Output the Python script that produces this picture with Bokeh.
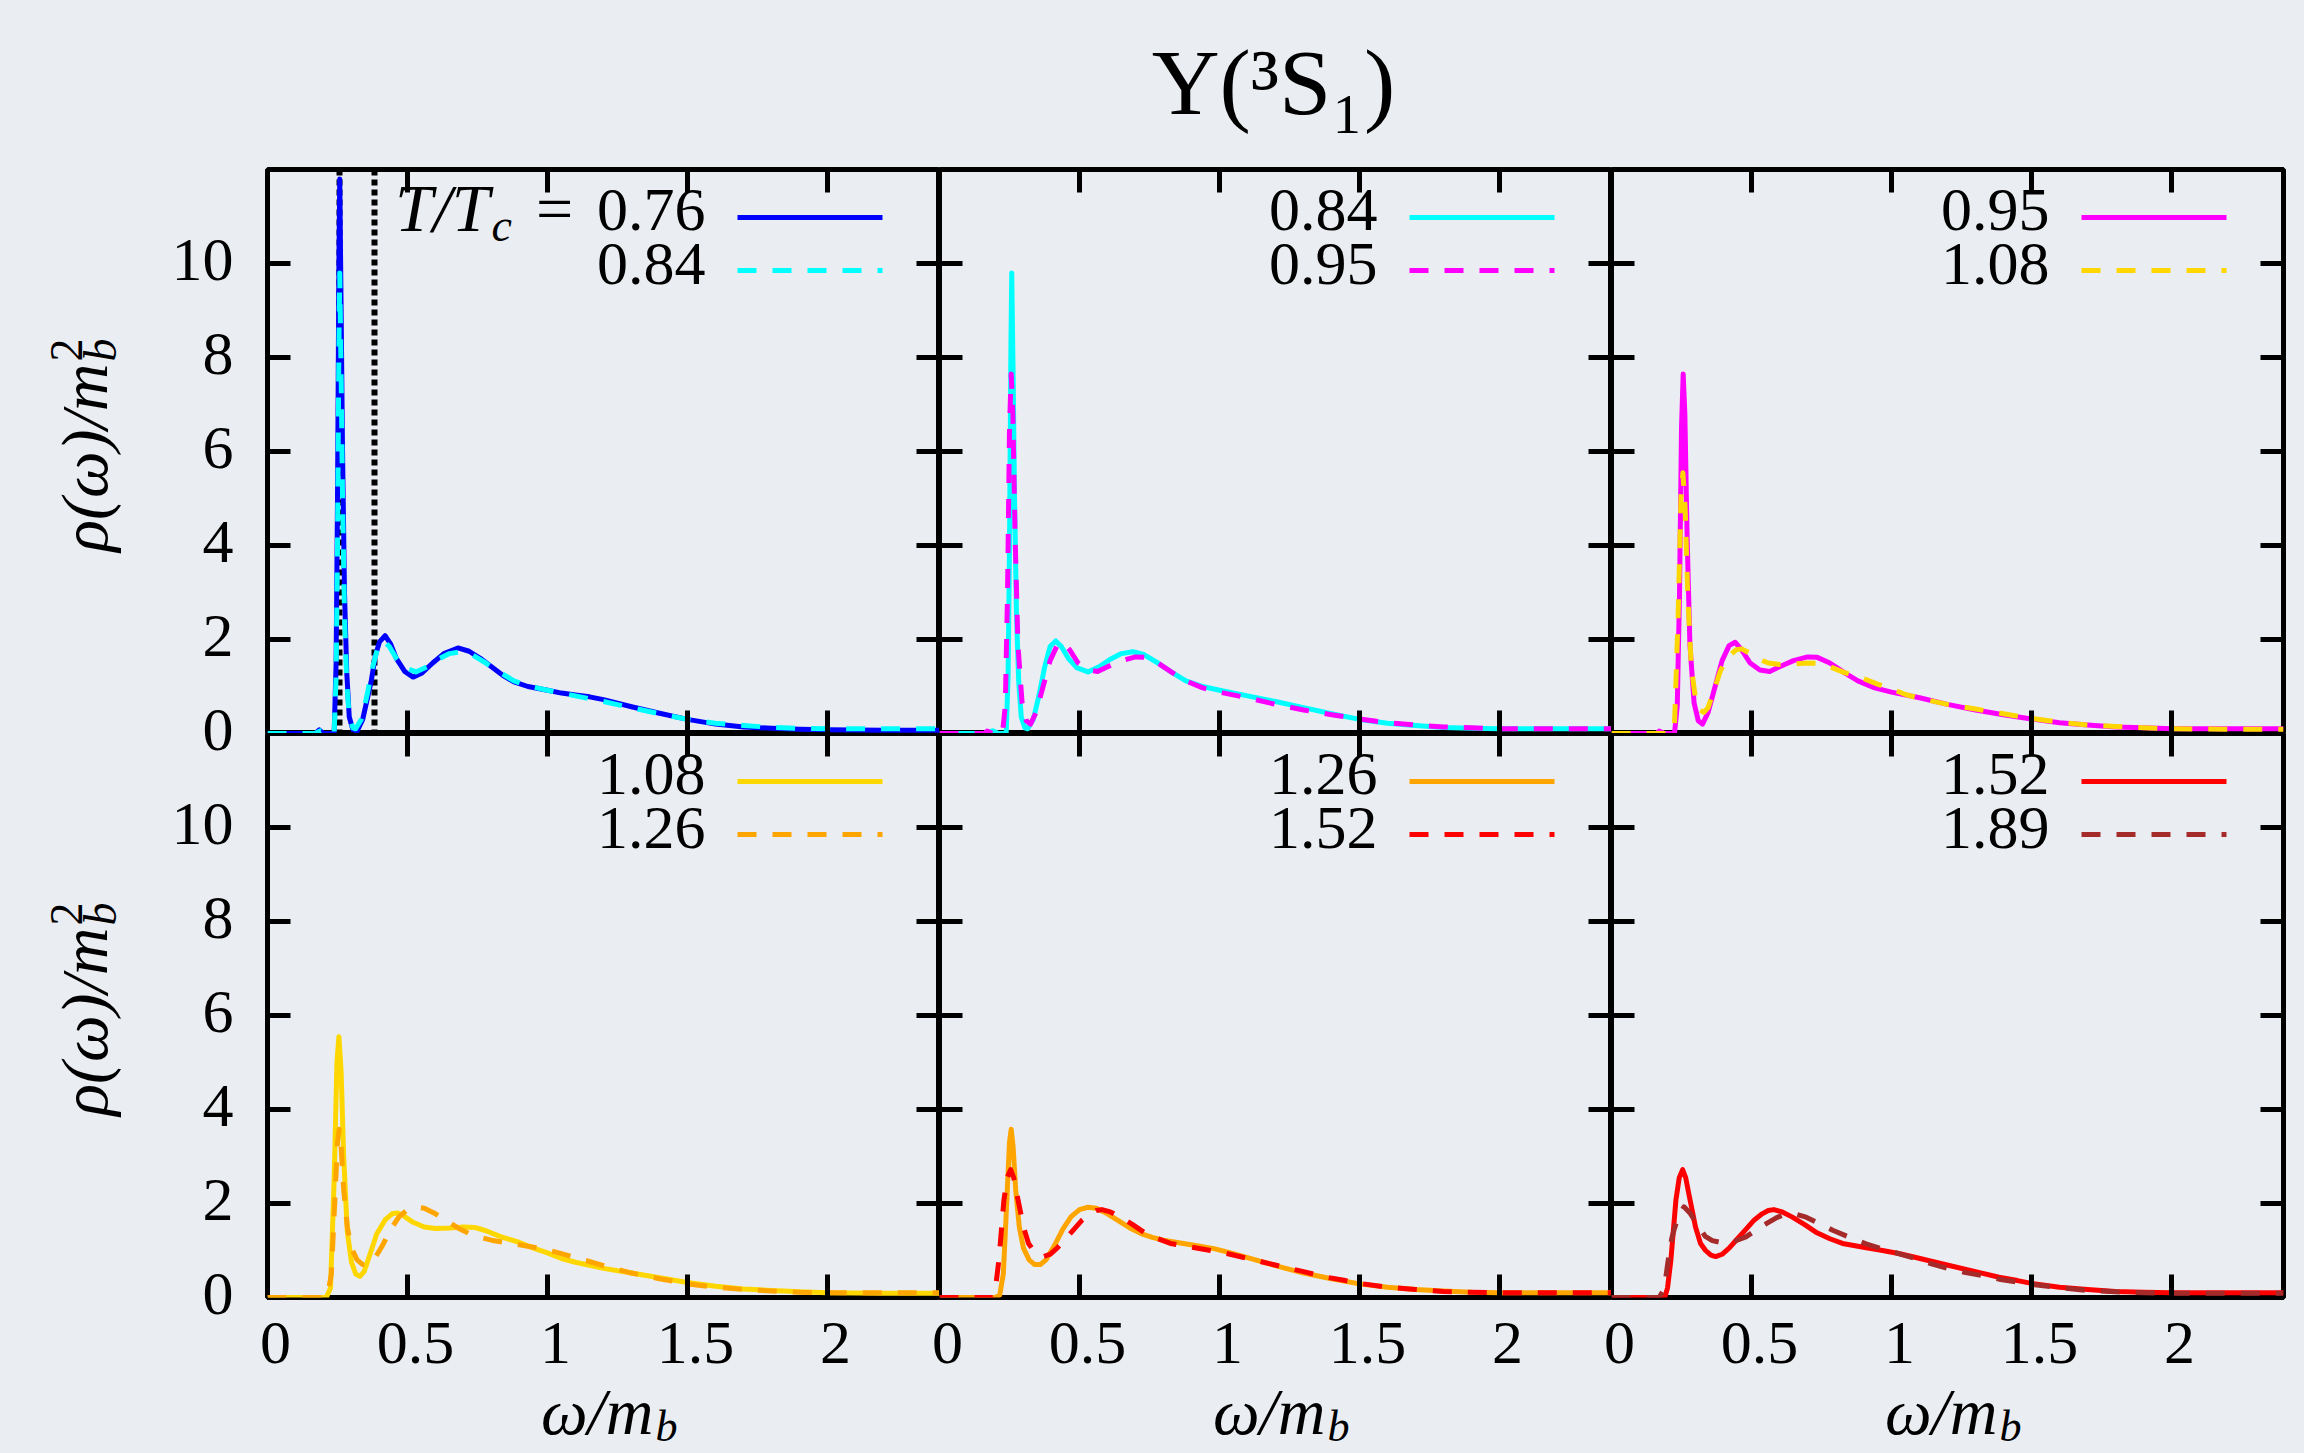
import math
from bokeh.plotting import figure
from bokeh.layouts import row, column
from bokeh.models import (LinearAxis, FixedTicker, CustomJSTickFormatter, Range1d,
                          Label, Arrow)
from bokeh.core.properties import value
from bokeh.embed import file_html
from bokeh.resources import INLINE

# ---------------- data ----------------
title_text = "Υ(³S₁)"

w_076 = [0.0, 0.17, 0.185, 0.2, 0.238, 0.245, 0.25, 0.255, 0.258, 0.263, 0.268, 0.275, 0.283, 0.292, 0.305,
         0.32, 0.34, 0.355, 0.37, 0.385, 0.40, 0.42, 0.44, 0.46, 0.49, 0.52, 0.55, 0.59, 0.63, 0.68,
         0.72, 0.76, 0.80, 0.84, 0.88, 0.93, 1.0, 1.05, 1.1, 1.15, 1.2, 1.3, 1.4, 1.5, 1.6,
         1.7, 1.8, 1.9, 2.0, 2.2, 2.4]
rho_076 = [0, 0, 0.08, 0, 0, 1.5, 5.0, 10.0, 11.8, 9.0, 6.0, 3.0, 1.3, 0.35, 0.08,
           0.05, 0.3, 0.7, 1.1, 1.65, 1.95, 2.08, 1.9, 1.6, 1.32, 1.2, 1.28, 1.5, 1.7, 1.82,
           1.75, 1.6, 1.42, 1.24, 1.1, 1.0, 0.92, 0.86, 0.82, 0.78, 0.72, 0.57, 0.43, 0.30, 0.2,
           0.14, 0.11, 0.09, 0.08, 0.07, 0.07]

w_084 = [0.0, 0.17, 0.19, 0.21, 0.238, 0.245, 0.25, 0.255, 0.258, 0.263, 0.268, 0.275, 0.283, 0.292, 0.305,
         0.315, 0.335, 0.355, 0.375, 0.395, 0.415, 0.435, 0.46, 0.49, 0.53, 0.57, 0.61, 0.65, 0.69, 0.73,
         0.78, 0.83, 0.88, 0.94, 1.0, 1.1, 1.2, 1.3, 1.4, 1.5, 1.6, 1.7, 1.8, 1.9, 2.0, 2.2, 2.4]
rho_084 = [0, 0, 0.06, 0, 0, 1.2, 4.0, 8.2, 9.8, 7.6, 5.0, 2.5, 1.1, 0.35, 0.12,
           0.1, 0.3, 0.8, 1.4, 1.85, 1.97, 1.85, 1.6, 1.4, 1.31, 1.42, 1.58, 1.7, 1.74, 1.68,
           1.5, 1.3, 1.12, 1.0, 0.92, 0.8, 0.68, 0.55, 0.42, 0.30, 0.22, 0.17, 0.13, 0.11, 0.1, 0.1, 0.1]

w_095 = [0.0, 0.16, 0.17, 0.19, 0.225, 0.235, 0.243, 0.25, 0.256, 0.262, 0.27, 0.28, 0.295, 0.31, 0.325,
         0.345, 0.37, 0.395, 0.42, 0.442, 0.465, 0.495, 0.53, 0.565, 0.6, 0.65, 0.7, 0.735, 0.78, 0.83,
         0.88, 0.94, 1.0, 1.1, 1.2, 1.3, 1.4, 1.5, 1.6, 1.7, 1.8, 1.9, 2.0, 2.2, 2.4]
rho_095 = [0, 0, 0.05, 0, 0, 0.6, 3.0, 6.5, 7.65, 6.8, 4.2, 1.9, 0.65, 0.27, 0.2,
           0.45, 1.0, 1.55, 1.87, 1.94, 1.78, 1.5, 1.35, 1.32, 1.42, 1.55, 1.63, 1.62, 1.5, 1.3,
           1.12, 0.97, 0.88, 0.76, 0.62, 0.5, 0.4, 0.31, 0.23, 0.18, 0.14, 0.12, 0.1, 0.1, 0.1]

w_108 = [0.0, 0.21, 0.225, 0.238, 0.248, 0.255, 0.263, 0.272, 0.285, 0.30, 0.315, 0.33, 0.345, 0.365, 0.39,
         0.42, 0.445, 0.465, 0.49, 0.52, 0.56, 0.6, 0.65, 0.7, 0.74, 0.78, 0.83, 0.9, 0.95, 1.0,
         1.05, 1.1, 1.2, 1.3, 1.4, 1.5, 1.6, 1.7, 1.8, 1.9, 2.0, 2.2, 2.4]
rho_108 = [0, 0, 0.2, 2.5, 5.0, 5.55, 4.8, 3.0, 1.4, 0.75, 0.5, 0.45, 0.55, 0.9, 1.35,
           1.65, 1.78, 1.8, 1.72, 1.6, 1.5, 1.47, 1.48, 1.5, 1.49, 1.42, 1.3, 1.17, 1.05, 0.95,
           0.83, 0.75, 0.62, 0.52, 0.42, 0.32, 0.24, 0.18, 0.15, 0.12, 0.1, 0.09, 0.09]

w_126 = [0.0, 0.2, 0.215, 0.228, 0.24, 0.25, 0.256, 0.263, 0.272, 0.285, 0.3, 0.32, 0.34, 0.36, 0.38,
         0.41, 0.44, 0.47, 0.5, 0.53, 0.56, 0.6, 0.64, 0.68, 0.72, 0.76, 0.8, 0.86, 0.92, 0.98,
         1.04, 1.1, 1.2, 1.3, 1.4, 1.5, 1.6, 1.7, 1.8, 1.9, 2.0, 2.2, 2.4]
rho_126 = [0, 0, 0.05, 0.5, 2.0, 3.3, 3.58, 3.2, 2.3, 1.5, 1.05, 0.8, 0.7, 0.7, 0.8,
           1.1, 1.45, 1.72, 1.87, 1.92, 1.9, 1.78, 1.63, 1.48, 1.36, 1.28, 1.22, 1.16, 1.1, 1.04,
           0.95, 0.85, 0.68, 0.52, 0.4, 0.29, 0.22, 0.17, 0.14, 0.11, 0.1, 0.1, 0.1]

w_152 = [0.0, 0.19, 0.2, 0.212, 0.222, 0.23, 0.242, 0.254, 0.265, 0.276, 0.29, 0.3, 0.318, 0.336, 0.355,
         0.372, 0.395, 0.42, 0.45, 0.48, 0.51, 0.538, 0.56, 0.58, 0.61, 0.646, 0.69, 0.73, 0.78, 0.825,
         0.9, 0.968, 1.03, 1.087, 1.15, 1.206, 1.3, 1.384, 1.45, 1.5, 1.6, 1.7, 1.8, 1.9, 2.0, 2.2, 2.4]
rho_152 = [0, 0, 0.2, 0.79, 1.5, 2.07, 2.55, 2.72, 2.55, 2.21, 1.8, 1.5, 1.15, 1.0, 0.9,
           0.87, 0.92, 1.05, 1.25, 1.45, 1.65, 1.78, 1.85, 1.87, 1.82, 1.71, 1.55, 1.39, 1.25, 1.15,
           1.07, 1.0, 0.93, 0.85, 0.76, 0.68, 0.55, 0.43, 0.36, 0.3, 0.22, 0.17, 0.13, 0.11, 0.1, 0.1, 0.1]

w_189 = [0.0, 0.17, 0.185, 0.194, 0.205, 0.215, 0.223, 0.24, 0.259, 0.28, 0.296, 0.312, 0.335, 0.36, 0.39,
         0.432, 0.48, 0.52, 0.553, 0.59, 0.624, 0.66, 0.695, 0.74, 0.79, 0.85, 0.909, 0.97, 1.028, 1.09,
         1.146, 1.2, 1.265, 1.33, 1.384, 1.45, 1.5, 1.6, 1.7, 1.8, 1.9, 2.0, 2.2, 2.4]
rho_189 = [0, 0, 0.15, 0.43, 0.9, 1.25, 1.43, 1.75, 1.93, 1.8, 1.65, 1.5, 1.3, 1.21, 1.17,
           1.18, 1.29, 1.45, 1.57, 1.7, 1.78, 1.77, 1.71, 1.58, 1.43, 1.28, 1.14, 1.03, 0.93, 0.82,
           0.71, 0.62, 0.53, 0.46, 0.39, 0.33, 0.28, 0.21, 0.15, 0.12, 0.1, 0.09, 0.09, 0.09]

# pairs shown per panel: (solid, dashed)
panel_pairs = [["0.76", "0.84"], ["0.84", "0.95"], ["0.95", "1.08"],
               ["1.08", "1.26"], ["1.26", "1.52"], ["1.52", "1.89"]]
x_ticks = [0, 0.5, 1, 1.5, 2]
x_tick_labels = ["0", "0.5", "1", "1.5", "2"]
y_ticks = [0, 2, 4, 6, 8, 10]
y_tick_labels = ["0", "2", "4", "6", "8", "10"]
ref_lines = [0.258, 0.383]
X_MAX, Y_MAX = 2.4, 12

series = {
    "0.76": (w_076, rho_076, "#0000ff"),
    "0.84": (w_084, rho_084, "#00ffff"),
    "0.95": (w_095, rho_095, "#ff00ff"),
    "1.08": (w_108, rho_108, "#ffd700"),
    "1.26": (w_126, rho_126, "#ffa500"),
    "1.52": (w_152, rho_152, "#ff0000"),
    "1.89": (w_189, rho_189, "#a52a2a"),
}

# ---------------- geometry / style ----------------
BG = "#eaedf2"
SERIF = "Liberation Serif"
FW, FH = 672, 564
W_LEFT = 245          # left strip (y tick labels + y titles)
PAD_L = 22            # left border of left-column panels
PAD_R = 21
T_H = 159             # title strip
PAD_T = 10
PAD_B = 10
B_H = 146             # bottom strip (x tick labels + x titles)
PAGE_H = T_H + PAD_T + 2 * FH + PAD_B + B_H
RIGHT_W = PAD_L + 3 * FW + PAD_R
XS = FW / X_MAX       # px per x unit
YS = FH / Y_MAX       # px per y unit
LW = 5
DASH = "19 16"
MID = 0.3375          # centre of the text box above the baseline, in em


def bare_fig(w, h, xr, yr):
    p = figure(width=w, height=h, x_range=xr, y_range=yr, output_backend="svg",
               toolbar_location=None, x_axis_location=None, y_axis_location=None,
               min_border=0, background_fill_color=BG, border_fill_color=BG,
               outline_line_color=None)
    p.grid.grid_line_color = None
    return p


def add_axis(p, loc, ticks):
    ax = LinearAxis(ticker=FixedTicker(ticks=ticks))
    ax.axis_line_color = None
    ax.major_tick_in = 23
    ax.major_tick_out = 0
    ax.major_tick_line_width = LW
    ax.major_tick_line_color = "black"
    ax.minor_tick_line_color = None
    ax.formatter = CustomJSTickFormatter(code="return '';")
    ax.major_label_text_font_size = "0px"
    ax.major_label_standoff = 0
    p.add_layout(ax, loc)


def label(p, x, base, text, size, italic=False, align="left", rotated=False, **kw):
    """Place text with its baseline at `base` (screen px, frame relative)."""
    off = MID * size
    if rotated:
        pos = dict(x=x - off, y=base, angle=math.pi / 2)
    else:
        pos = dict(x=x, y=base + off)
    kw.setdefault("x_units", "screen")
    p.add_layout(Label(y_units="screen", text=text, text_align=align, text_baseline="middle",
                       text_font=SERIF, text_font_size=f"{size}px",
                       text_font_style="italic" if italic else "normal",
                       text_color="black", **pos, **kw))


# ---------------- panels ----------------
figs = []
for idx, (solid_key, dashed_key) in enumerate(panel_pairs):
    r, c = divmod(idx, 3)
    p = figure(frame_width=FW, frame_height=FH,
               x_range=Range1d(0, X_MAX), y_range=Range1d(0, Y_MAX),
               output_backend="svg", toolbar_location=None,
               x_axis_location=None, y_axis_location=None,
               background_fill_color=BG, border_fill_color=BG,
               outline_line_color="black", outline_line_width=LW,
               min_border_left=PAD_L if c == 0 else 0,
               min_border_right=PAD_R if c == 2 else 0,
               min_border_top=PAD_T if r == 0 else 0,
               min_border_bottom=PAD_B if r == 1 else 0)
    p.grid.grid_line_color = None
    add_axis(p, "below", x_ticks[1:])
    add_axis(p, "above", x_ticks[1:])
    add_axis(p, "left", y_ticks[1:])
    add_axis(p, "right", y_ticks[1:])

    if idx == 0:
        p.vspan(x=ref_lines, line_color="black", line_width=6, line_dash="6 4")

    ws, rs, cs = series[solid_key]
    wd, rd, cd = series[dashed_key]
    p.line(ws, rs, line_color=cs, line_width=LW, line_join="round")
    p.line(wd, rd, line_color=cd, line_width=LW, line_dash=DASH, line_join="round")

    # gnuplot-style key: text, then line sample
    for key, dash, tb, ly in [(solid_key, "solid", FH - 61, FH - 48),
                              (dashed_key, DASH, FH - 115, FH - 101)]:
        label(p, 438, tb, key, 62, align="right")
        p.add_layout(Arrow(end=None, x_start=470, y_start=ly, x_end=615, y_end=ly,
                           start_units="screen", end_units="screen",
                           line_color=series[key][2], line_width=LW, line_dash=dash))
    if idx == 0:
        label(p, 287, FH - 61, "=", 66, align="center")
        label(p, 222, FH - 61, "T/T", 68, italic=True, align="right")
        label(p, 224, FH - 72, "c", 46, italic=True, align="left")
    figs.append(p)

panels = column(row(*figs[0:3], styles={"background-color": BG}),
                row(*figs[3:6], styles={"background-color": BG}),
                styles={"background-color": BG})

# ---------------- title strip ----------------
top = bare_fig(RIGHT_W, T_H, Range1d(0, RIGHT_W), Range1d(0, T_H))
label(top, (1273 - W_LEFT), T_H - 113, title_text, 94, align="center")

# ---------------- left strip: y tick labels and y titles ----------------
zero_bottom = T_H + PAD_T + 2 * FH          # page y of rho = 0 in the lower row
left = bare_fig(W_LEFT, PAGE_H, Range1d(0, W_LEFT),
                Range1d(-(PAGE_H - zero_bottom) / YS, zero_bottom / YS))
yl_y = [t + Y_MAX for t in y_ticks] + y_ticks
yl_t = y_tick_labels + y_tick_labels
left.text(x=[233] * len(yl_y), y=yl_y, text=yl_t, text_align=value("right"),
          text_baseline=value("middle"), text_font=value(SERIF),
          text_font_size=value("62px"), text_color="black", y_offset=-4)
for r in range(2):
    centre = T_H + PAD_T + FH * r + FH / 2          # page y of panel centre
    join = PAGE_H - (centre - 88)                   # screen y (from bottom) of the m|b join
    label(left, 106, join, "ρ(ω)/m", 66, italic=True, align="right", rotated=True)
    label(left, 82, join + 2, "2", 46, align="left", rotated=True)
    label(left, 116, join + 2, "b", 46, italic=True, align="left", rotated=True)

# ---------------- bottom strip: x tick labels and x titles ----------------
bottom = bare_fig(RIGHT_W, B_H, Range1d(-PAD_L / XS, (RIGHT_W - PAD_L) / XS), Range1d(0, B_H))
xl_x = [round(c * X_MAX + t, 6) for c in range(3) for t in x_ticks]
xl_t = x_tick_labels * 3
base_ticks = PAGE_H - 1363
bottom.text(x=xl_x, y=[base_ticks + MID * 62] * len(xl_x), text=xl_t,
            text_align=value("center"), text_baseline=value("middle"),
            text_font=value(SERIF), text_font_size=value("62px"), text_color="black",
            x_offset=8)
for c in range(3):
    xc = c * X_MAX + X_MAX / 2
    label(bottom, xc, PAGE_H - 1433, "ω/m", 66, italic=True, align="right",
          x_units="data", x_offset=50)
    label(bottom, xc, PAGE_H - 1441, "b", 44, italic=True, align="left",
          x_units="data", x_offset=52)

layout = row(left, column(top, panels, bottom, styles={"background-color": BG}),
             styles={"background-color": BG})

open("out.html", "w").write(file_html(layout, INLINE))
